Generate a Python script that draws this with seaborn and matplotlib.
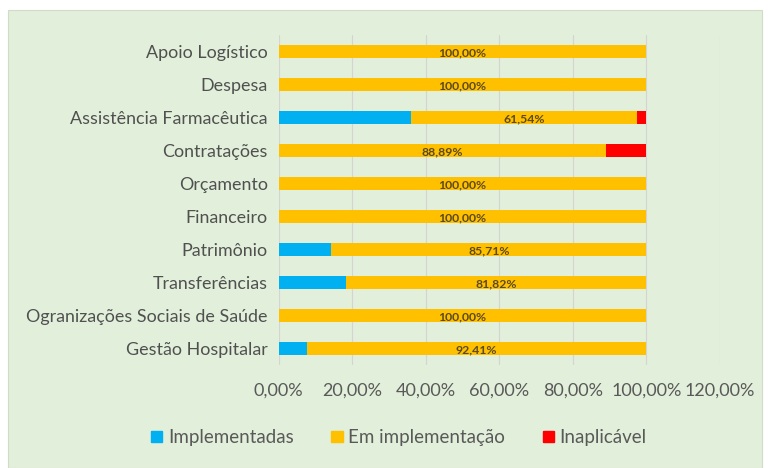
"""
Situação das recomendações por área - barras horizontais empilhadas
"""
import matplotlib
matplotlib.use("Agg")
import matplotlib.pyplot as plt
import seaborn as sns
import pandas as pd
from matplotlib.patches import Rectangle, Patch
from matplotlib.ticker import FuncFormatter

areas = ["Apoio Logístico", "Despesa", "Assistência Farmacêutica", "Contratações",
         "Orçamento", "Financeiro", "Patrimônio", "Transferências",
         "Ogranizações Sociais de Saúde", "Gestão Hospitalar"]
implementadas = [0, 0, 35.90, 0, 0, 0, 14.29, 18.18, 0, 7.59]
em_implementacao = [100, 100, 61.54, 88.89, 100, 100, 85.71, 81.82, 100, 92.41]
inaplicavel = [0, 0, 2.56, 11.11, 0, 0, 0, 0, 0, 0]
xticks = [0, 20, 40, 60, 80, 100, 120]

BG = "#e2efda"
C_BLUE, C_ORANGE, C_RED = "#00b0f0", "#ffc000", "#ff0000"

df = pd.DataFrame({"area": areas, "impl": implementadas,
                   "em": em_implementacao, "inap": inaplicavel})
df["c1"] = df["impl"]
df["c2"] = df["impl"] + df["em"]
df["c3"] = df["c2"] + df["inap"]

sns.set_theme(style="white")
plt.rcParams["font.family"] = ["Lato", "DejaVu Sans"]

fig = plt.figure(figsize=(7.7, 4.68), dpi=100, facecolor="white")
fig.patches.append(Rectangle((8 / 770, 0), 1 - 16 / 770, 1 - 10 / 468,
                             transform=fig.transFigure, facecolor=BG,
                             edgecolor="#d0dcc8", lw=0.8, zorder=-10))
ax = fig.add_axes([0.362, 0.22, 0.573, 0.705])
ax.patch.set_alpha(0)

kw = dict(data=df, y="area", orient="h", width=0.4, ax=ax, saturation=1,
          linewidth=0, order=areas)
sns.barplot(x="c3", color=C_RED, **kw)
sns.barplot(x="c2", color=C_ORANGE, **kw)
sns.barplot(x="c1", color=C_BLUE, **kw)

for i, row in df.iterrows():
    cx = row["impl"] + row["em"] / 2
    ax.text(cx, i + 0.03, f"{row['em']:.2f}%".replace(".", ","), ha="center",
            va="center", fontsize=8.8, fontweight="bold", color="#5c4a1a")

ax.set_xlim(0, 120)
ax.set_xticks(xticks)
ax.xaxis.set_major_formatter(FuncFormatter(lambda v, p: f"{v:.2f}%".replace(".", ",")))
ax.grid(axis="x", color="#d4d4d4", lw=0.8)
ax.set_axisbelow(True)
for s in ax.spines.values():
    s.set_visible(False)
ax.set_xlabel("")
ax.set_ylabel("")
ax.tick_params(axis="x", labelsize=13, labelcolor="#595959", pad=13, length=0)
ax.tick_params(axis="y", labelsize=12.9, labelcolor="#505050", pad=8, length=0)

handles = [Patch(color=C_BLUE, label="Implementadas"),
           Patch(color=C_ORANGE, label="Em implementação"),
           Patch(color=C_RED, label="Inaplicável")]
fig.legend(handles=handles, loc="center", bbox_to_anchor=(0.518, 0.065), ncol=3,
           frameon=False, fontsize=13.5, handlelength=0.6, handleheight=0.6,
           handletextpad=0.3, columnspacing=2.0, labelcolor="#595959")

plt.savefig("out.png", dpi=100, facecolor=fig.get_facecolor())
